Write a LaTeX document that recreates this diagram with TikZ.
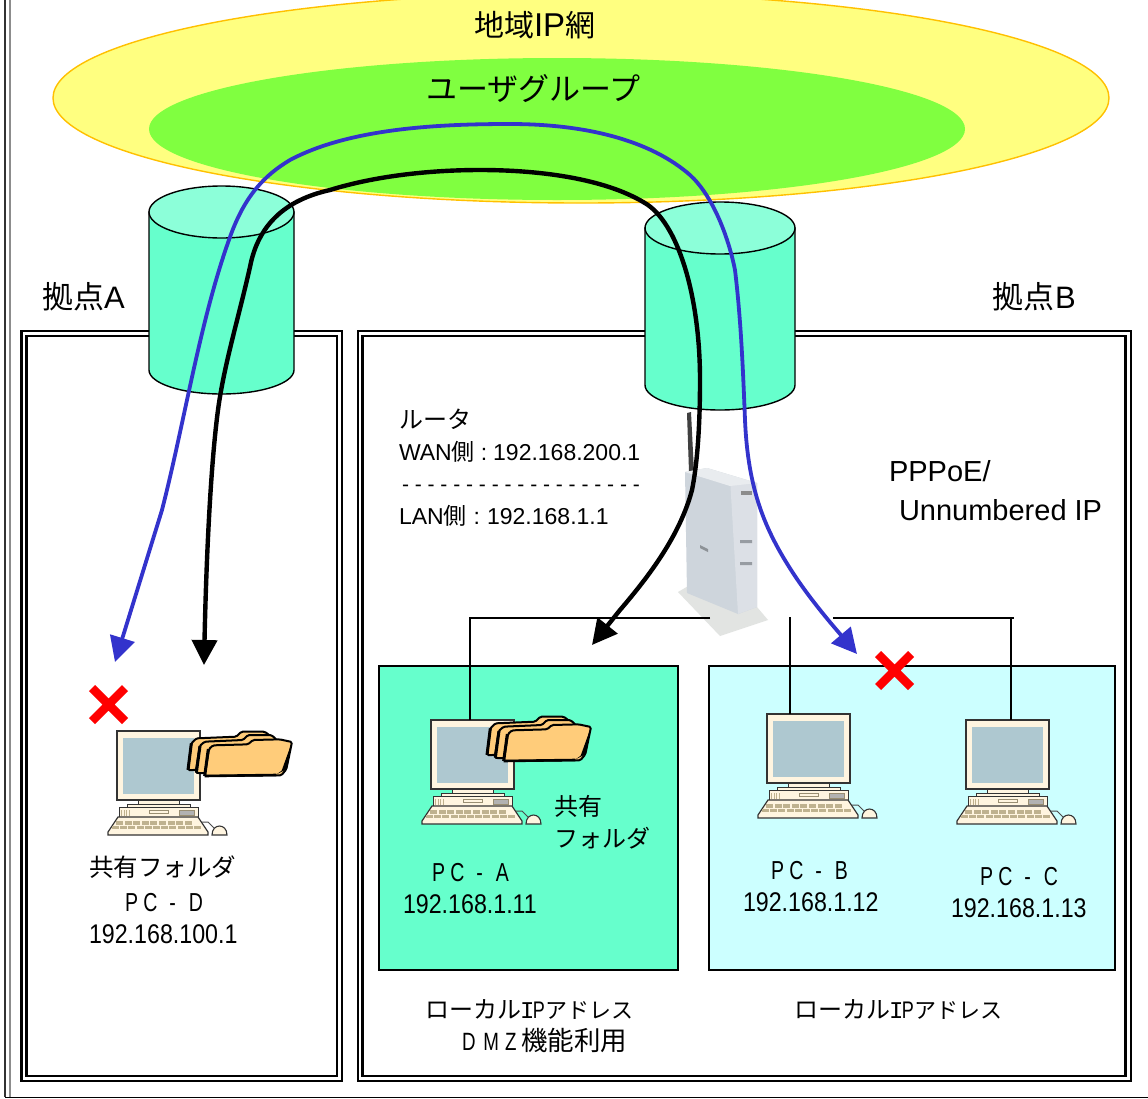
\documentclass[tikz,border=0pt]{standalone}
\usepackage{fontspec}
\setmainfont{Liberation Sans}
\newfontfamily\jp{Noto Sans CJK JP}
\newfontfamily\mono{Liberation Mono}
\newfontfamily\narrowf[FakeStretch=0.75]{Liberation Sans}
\newfontfamily\numf[FakeStretch=0.86]{Liberation Sans}
\usetikzlibrary{arrows.meta}
\definecolor{yel}{HTML}{FFFF80}
\definecolor{yelline}{HTML}{FFC000}
\definecolor{lime}{HTML}{80FF40}
\definecolor{teal1}{HTML}{66FFCC}
\definecolor{teal2}{HTML}{8CFFD9}
\definecolor{cyan1}{HTML}{CCFFFF}
\definecolor{flowblue}{HTML}{3333CC}
\definecolor{cream}{HTML}{FFF5E0}
\definecolor{scr}{HTML}{AEC8D0}
\definecolor{tan1}{HTML}{BFB28F}
\definecolor{fold}{HTML}{FFCC7A}
\definecolor{rtr}{HTML}{C9D0D8}
\definecolor{rtrb}{HTML}{E2E4E2}
\tikzset{
  lbl/.style={anchor=base west,inner sep=0pt,outer sep=0pt,text=black},
  frameline/.style={draw=black,line width=2.2pt,fill=none},
  cylbody/.style={draw=black,line width=1.4pt,fill=teal1},
  cyltop/.style={draw=black,line width=1.4pt,fill=teal2},
  net/.style={draw=black,line width=1.4pt},
  flowb/.style={draw=black,line width=4.4pt,{Triangle[length=25pt,width=25pt]}-{Triangle[length=25pt,width=25pt]}},
  flowu/.style={draw=flowblue,line width=3.8pt,{Triangle[length=25pt,width=25pt]}-{Triangle[length=25pt,width=25pt]}},
  redx/.style={draw=red,line width=8.5pt},
  pcline/.style={draw=black!80,line width=1pt,fill=cream},
  foldl/.style={draw=black,line width=2pt,fill=fold,rounded corners=1.5pt},
}
\newcommand\fs[1]{\fontsize{#1}{#1}\selectfont}
\newcommand\wl[1]{\makebox[21.5pt][l]{\narrowf #1}}
\newcommand\pcname[1]{\fs{26}\makebox[18.5pt][l]{\narrowf P}\makebox[25pt][l]{\narrowf C}\makebox[20.5pt][l]{\narrowf\kern1pt -}{\narrowf #1}}
\newcommand\numtxt[1]{\fs{27}\numf #1}
\newcommand\loctxt{{\fs{24}\jp ローカル}\kern-1pt{\fs{24}\mono I}\kern-1.5pt{\fs{24}\narrowf P\kern1pt}{\fs{22}\jp アドレス}}
\newcommand\pcicon[2]{%
\begin{scope}[shift={(#1,#2)}]
  \draw[pcline] (10,73) rectangle (73,76);
  \fill[tan1!60!cream] (21,69) rectangle (62,73);
  \draw[pcline] (21,69) rectangle (62,73);
  \draw[pcline,line width=1.2pt] (0,0) rectangle (83,69);
  \fill[scr] (6,7) rectangle (77,63);
  \draw[pcline] (2,76) rectangle (81,86);
  \foreach \sx in {4,6.5,9,11.5}{\fill[tan1] (\sx,79) rectangle +(1.3,6);}
  \draw[draw=tan1!80!black,line width=.8pt,fill=cream] (32,79.5) rectangle (51,82);
  \draw[draw=tan1!80!black,line width=.8pt,fill=gray!60] (62,79) rectangle (77,84.5);
  \draw[pcline,line width=1.2pt] (1,86) -- (81,86) -- (91,101) -- (91,104) -- (-9,104) -- (-9,101) -- cycle;
  \foreach \kx in {0,1,...,8}{\fill[tan1] ({-1+\kx*8.6},90) rectangle +(7,3.5);}
  \foreach \kx in {0,1,...,10}{\fill[tan1] ({-5+\kx*8.2},94.5) rectangle +(7,3.8);}
  \draw[draw=black!70,line width=1pt] (85,91) -- (91,91) -- (97,97);
  \draw[pcline,line width=1.1pt] (95,104) .. controls (95,92) and (110,92) .. (110,104) -- cycle;
\end{scope}}
\newcommand\foldericon[2]{%
\begin{scope}[shift={(#1,#2)},x=.3333pt,y=-.3333pt,shift={(-322pt*.3333,150pt*.3333)}]
  \draw[foldl] (325,270) -- (335,190) -- (350,175) -- (470,170) -- (485,155) -- (555,155) -- (575,170) -- (600,240) -- (345,270) -- cycle;
  \draw[foldl] (348,278) -- (360,198) -- (375,185) -- (490,180) -- (505,165) -- (575,165) -- (590,178) -- (610,250) -- (365,280) -- cycle;
  \draw[foldl] (375,288) -- (388,207) -- (400,196) -- (505,193) -- (520,180) -- (600,178) -- (637,186) -- (620,268) -- (605,286) -- cycle;
  \fill[black] (637,186) -- (620,268) -- (592,282) -- (606,272) -- cycle;
  \draw[black,line width=3pt] (325,270) -- (335,190);
  \draw[black,line width=3pt] (350,278) -- (361,198);
  \draw[black,line width=3pt] (375,288) -- (386,207);
  \draw[black,line width=2.6pt] (375,288) -- (590,285);
\end{scope}}
\begin{document}
\begin{tikzpicture}[x=1pt,y=-1pt]
\useasboundingbox (0,0) rectangle (1148,1098);
\fill[white] (0,0) rectangle (1148,1098);
% page frame
\draw[black!80,line width=1.4pt] (5,0) -- (5,1097);
\draw[black!45,line width=2pt] (10,0) -- (10,1097);
\draw[black,line width=1pt] (5,1097) -- (1148,1097);
% regions
\draw[draw=yelline,line width=1.4pt,fill=yel] (581,98) ellipse [x radius=528,y radius=105];
\fill[lime] (557,129) ellipse [x radius=408,y radius=71];
% frames
\draw[frameline] (21.5,331) rectangle (342,1081);
\draw[frameline] (26.5,336) rectangle (337,1076);
\draw[frameline] (358,331) rectangle (1131,1081);
\draw[frameline] (362.5,336) rectangle (1125.5,1076);
% cylinders
\draw[cylbody] (149,212) -- (149,370) arc[start angle=180,end angle=0,x radius=72.5,y radius=24] -- (294,212) -- cycle;
\draw[cyltop] (221.5,212) ellipse [x radius=72.5,y radius=26];
\draw[cylbody] (645,228) -- (645,385) arc[start angle=180,end angle=0,x radius=75,y radius=25] -- (795,228) -- cycle;
\draw[cyltop] (720,228) ellipse [x radius=75,y radius=26];
% router
\node[inner sep=0pt,minimum size=0pt] (router) at (720,550) {};
\fill[black!75] (687,413) -- (691,412) -- (694,472) -- (689,472) -- cycle;
\fill[rtrb] (678,592) -- (690,585) -- (757,607) -- (768,620) -- (720,636) -- cycle;
\fill[rtr!90!white] (685,472) -- (707,468) -- (757,483) -- (757,607) -- (738,614) -- (687,593) -- cycle;
\fill[rtr!65!white] (730,478) -- (757,483) -- (757,607) -- (738,614) -- cycle;
\fill[rtr!40!white] (685,472) -- (707,468) -- (757,483) -- (730,486) -- cycle;
\fill[black!45] (741,491) rectangle (752,495);
\fill[rtr!70!black] (700,545) -- (708,549) -- (708,552) -- (700,548) -- cycle;
\fill[rtr!75!black] (740,540) rectangle (752,543) (740,562) rectangle (752,565);
% boxes
\draw[draw=black,line width=1.5pt,fill=teal1] (379,666) rectangle (678,970);
\draw[draw=black,line width=1.5pt,fill=cyan1] (709,666) rectangle (1115,970);
% PCs
\pcicon{117}{731}
\pcicon{431}{720}
\pcicon{767}{714}
\pcicon{966}{720}
\foldericon{187}{730}
\foldericon{486}{715}
\coordinate (pcAt) at (470,720);
\coordinate (pcBt) at (790,714);
\coordinate (pcCt) at (1011,720);
\coordinate (rA) at (710,618);
\coordinate (rB) at (790,617);
\coordinate (rC) at (833,618);
\coordinate (endC) at (1014,618);
\draw[net] (rA) -- (pcAt |- rA) -- (pcAt);
\draw[net] (rB) -- (pcBt);
\draw[net] (rC) -- (endC);
\draw[net] (pcCt |- rC) -- (pcCt);
% red crosses
\draw[redx] (92,688) -- (125,721) (92,721) -- (125,688);
\draw[redx] (878,654) -- (911,687) (878,687) -- (911,654);
% flows
\coordinate (tipBA) at (592,645);
\coordinate (tipBD) at (204,665);
\coordinate (tipUB) at (857,654);
\coordinate (tipUD) at (115,662);
\draw[flowu] (tipUD) -- (162,510) .. controls (185,420) and (200,320) .. (230,237)
  .. controls (245,195) and (265,175) .. (290,160)
  .. controls (350,128) and (440,124) .. (510,124)
  .. controls (585,124) and (650,140) .. (690,175)
  .. controls (712,195) and (728,235) .. (735,270)
  .. controls (741,320) and (743,370) .. (745,420)
  .. controls (748,490) and (765,530) .. (793,573)
  .. controls (812,602) and (835,628) .. (tipUB);
\draw[flowb] (tipBD) .. controls (206,570) and (210,470) .. (218,410)
  .. controls (224,365) and (238,320) .. (250,267)
  .. controls (258,225) and (285,200) .. (330,190)
  .. controls (375,176) and (430,170) .. (480,170)
  .. controls (545,170) and (610,180) .. (648,205)
  .. controls (680,228) and (700,300) .. (700,380)
  .. controls (700,420) and (698,460) .. (692,490)
  .. controls (680,535) and (650,575) .. (620,610)
  -- (tipBA);
% labels
\node[lbl] (t1) at (474,36) {\fs{30}{\jp 地域}\fs{33}IP\fs{30}{\jp 網}};
\node[lbl] (t2) at (426,100) {\fs{31}\jp ユーザグループ};
\node[lbl] (t3) at (42,308) {\fs{31}{\jp 拠点}A};
\node[lbl] (t4) at (992,308) {\fs{31}{\jp 拠点}\kern1pt B};
\node[lbl] (t5) at (399,428) {\fs{24}\jp ルータ};
\node[lbl] (t6) at (399,460) {\fs{23}WAN{\jp 側}\kern6pt:\kern6pt 192.168.200.1};
\node[lbl] (t7) at (402,491) {\fs{21}- - - - - - - - - - - - - - - - - - -};
\node[lbl] (t8) at (399,524) {\fs{23}LAN{\jp 側}\kern7pt:\kern7pt 192.168.1.1};
\node[lbl] (t9) at (889,481) {\fs{29}PPPoE/};
\node[lbl] (t10) at (899,520) {\fs{29}Unnumbered IP};
\node[lbl] (t11) at (89,876) {\fs{24.5}\jp 共有フォルダ};
\node[lbl] (t12) at (125,911) {\pcname{D}};
\node[lbl] (t13) at (89,943) {\numtxt{192.168.100.1}};
\node[lbl] (t14) at (554,815) {\fs{24}\jp 共有};
\node[lbl] (t15) at (554,847) {\fs{24}\jp フォルダ};
\node[lbl] (t16) at (432,881) {\pcname{A}};
\node[lbl] (t17) at (403,913) {\numtxt{192.168.1.11}};
\node[lbl] (t18) at (771,879) {\pcname{B}};
\node[lbl] (t19) at (743,911) {\numtxt{192.168.1.12}};
\node[lbl] (t20) at (980,885) {\pcname{C}};
\node[lbl] (t21) at (951,917) {\numtxt{192.168.1.13}};
\node[lbl] (t22) at (425,1018) {\loctxt};
\node[lbl] (t23) at (462,1050) {\fs{25}\wl{D}\wl{M}{\narrowf Z}\kern5pt{\fs{26.5}\jp 機能利用}};
\node[lbl] (t24) at (794,1018) {\loctxt};
\end{tikzpicture}
\end{document}
